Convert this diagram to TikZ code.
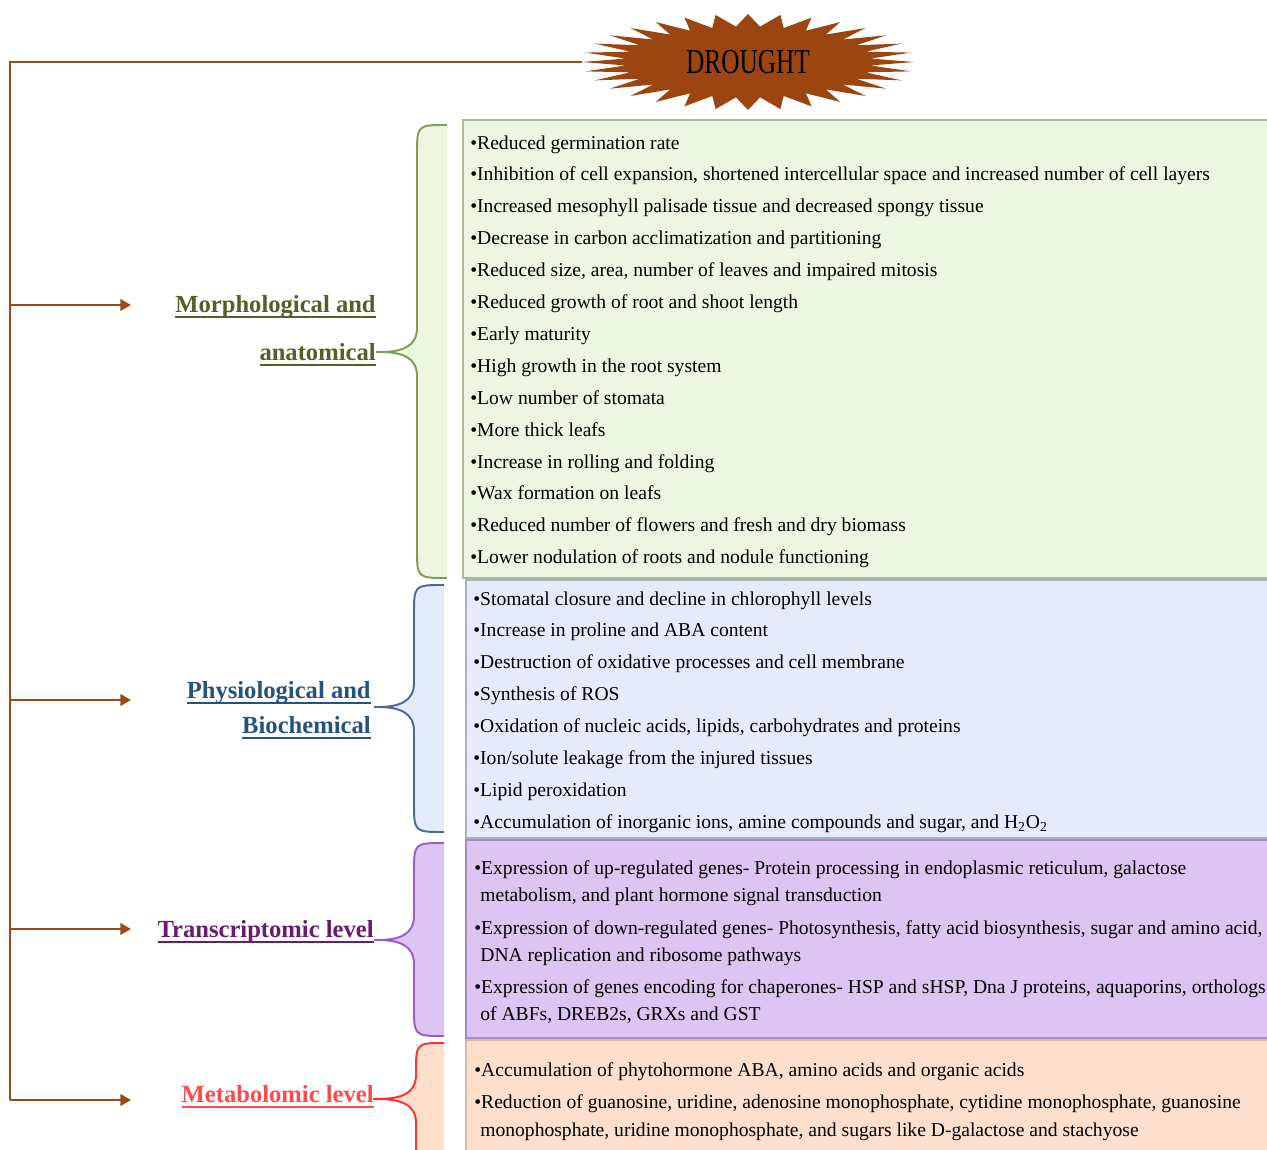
\documentclass[tikz,border=0pt]{standalone}
\usepackage{fontspec}
\setmainfont{Liberation Serif}
\newfontfamily\burstfont{Liberation Serif}[FakeStretch=0.72]
\usepackage{tikz}
\usetikzlibrary{arrows.meta, positioning}
\definecolor{rootbrown}{HTML}{9A4A12}
\definecolor{burst}{HTML}{9C4511}
\definecolor{morphdark}{HTML}{4F6228}
\definecolor{morphpen}{HTML}{7F9C5A}
\definecolor{morphfill}{HTML}{EBF7E1}
\definecolor{morphedge}{HTML}{A9BD97}
\definecolor{physdark}{HTML}{25527F}
\definecolor{physpen}{HTML}{4A6A96}
\definecolor{physfill}{HTML}{E4ECFB}
\definecolor{physedge}{HTML}{A5B2C8}
\definecolor{transdark}{HTML}{6A1B6E}
\definecolor{transpen}{HTML}{9A5CCB}
\definecolor{transfill}{HTML}{DEC4F2}
\definecolor{transedge}{HTML}{A98BC0}
\definecolor{metabdark}{HTML}{FF4B4B}
\definecolor{metabpen}{HTML}{FF3030}
\definecolor{metabfill}{HTML}{FDDFCB}
\definecolor{metabedge}{HTML}{D9B8A6}

% underlined level title
\newcommand{\levelul}[1]{\setbox0\hbox{#1}\rlap{\rule[-3.2pt]{\wd0}{1.2pt}}\box0}

% brace: vertical x, right x, tip x, top y, tip y, bottom y, pen, fill
\newcommand{\levelbrace}[8]{%
  \fill[#8] (#2,#4) .. controls (#1,#4) .. (#1,#4+30) -- (#1,#5-24)
    .. controls (#1,#5-6) and (#1-14,#5) .. (#3,#5)
    .. controls (#1-14,#5) and (#1,#5+6) .. (#1,#5+24)
    -- (#1,#6-30) .. controls (#1,#6) .. (#2,#6) -- cycle;
  \draw[bracepen, #7] (#2,#4) .. controls (#1,#4) .. (#1,#4+30) -- (#1,#5-24)
    .. controls (#1,#5-6) and (#1-14,#5) .. (#3,#5) -- (#3-4,#5) -- (#3,#5)
    .. controls (#1-14,#5) and (#1,#5+6) .. (#1,#5+24)
    -- (#1,#6-30) .. controls (#1,#6) .. (#2,#6);
}

\begin{document}
\begin{tikzpicture}[
    x=0.02cm, y=-0.02cm,
    trunk/.style={draw=rootbrown, line width=1.2pt},
    branch/.style={draw=rootbrown, line width=1.2pt, -{Triangle[length=6pt, width=6.5pt]}},
    bracepen/.style={line width=1.1pt},
    heading/.style={anchor=base east, inner sep=0, font=\fontsize{14}{16}\selectfont\bfseries},
    item/.style={anchor=base west, inner sep=0, font=\fontsize{11.15}{13}\selectfont},
    panel/.style={line width=1pt},
]
\useasboundingbox (0,0) rectangle (1267,1149);

% Drought burst
\fill[burst] (914,62) \foreach \k [evaluate=\k as \a using \k*5.625,
    evaluate=\k as \r using {ifthenelse(mod(\k,2)==0,1,0.74)}] in {1,...,63}
    { -- ({748+166*\r*cos(\a)},{62+48*\r*sin(\a)}) } -- cycle;
\node[minimum width=6.64cm, minimum height=1.9cm, inner sep=0,
    font=\burstfont\fontsize{20}{22}\selectfont] (drought) at (748,62) {DROUGHT};

% Panels
\draw[panel, fill=morphfill, draw=morphedge] (463,120) rectangle (1275,578);
\draw[panel, fill=physfill, draw=physedge] (466,580) rectangle (1275,838);
\draw[panel, fill=transfill, draw=transedge] (466,840) rectangle (1275,1038);
\draw[panel, fill=metabfill, draw=metabedge] (466,1040) rectangle (1275,1160);

% Braces
\levelbrace{417}{447}{380}{125}{352}{578}{morphpen}{morphfill}
\levelbrace{414}{444}{378}{585}{707}{832}{physpen}{physfill}
\levelbrace{414}{444}{378}{843}{940}{1036}{transpen}{transfill}
\levelbrace{416}{444}{377}{1043}{1099}{1190}{metabpen}{metabfill}

% Levels
\node[heading, text=morphdark] (morph1) at (376,312) {\levelul{Morphological and}};
\node[heading, text=morphdark] (morph2) at (376,360) {\levelul{anatomical}};
\node[heading, text=physdark] (phys1) at (371,698) {\levelul{Physiological and}};
\node[heading, text=physdark] (phys2) at (371,733) {\levelul{Biochemical}};
\node[heading, text=transdark] (trans) at (374,937) {\levelul{Transcriptomic level}};
\node[heading, text=metabdark] (metab) at (374,1102) {\levelul{Metabolomic level}};

% Connectors
\coordinate (corner) at (10,62);
\coordinate (s1) at (10,305);
\coordinate (s2) at (10,700);
\coordinate (s3) at (10,929);
\coordinate (s4) at (10,1100);
\coordinate (e1) at (131,305);
\coordinate (e2) at (131,700);
\coordinate (e3) at (131,929);
\coordinate (e4) at (131,1100);
\draw[trunk] (drought.west) -- (corner) -- (s4);
\foreach \i in {1,...,4}
    \draw[branch] (s\i) -- (e\i);

% Morphological and anatomical
\foreach \txt [count=\k from 0] in {
    {Reduced germination rate},
    {Inhibition of cell expansion, shortened intercellular space and increased number of cell layers},
    {Increased mesophyll palisade tissue and decreased spongy tissue},
    {Decrease in carbon acclimatization and partitioning},
    {Reduced size, area, number of leaves and impaired mitosis},
    {Reduced growth of root and shoot length},
    {Early maturity},
    {High growth in the root system},
    {Low number of stomata},
    {More thick leafs},
    {Increase in rolling and folding},
    {Wax formation on leafs},
    {Reduced number of flowers and fresh and dry biomass},
    {Lower nodulation of roots and nodule functioning}}
    \node[item] (m\k) at (470,149+31.9*\k) {\textbullet\txt};

% Physiological and biochemical
\foreach \txt [count=\k from 0] in {
    {Stomatal closure and decline in chlorophyll levels},
    {Increase in proline and ABA content},
    {Destruction of oxidative processes and cell membrane},
    {Synthesis of ROS},
    {Oxidation of nucleic acids, lipids, carbohydrates and proteins},
    {Ion/solute leakage from the injured tissues},
    {Lipid peroxidation},
    {Accumulation of inorganic ions, amine compounds and sugar, and H\textsubscript{2}O\textsubscript{2}}}
    \node[item] (p\k) at (473,605+31.9*\k) {\textbullet\txt};

% Transcriptomic level
\node[item] (t1) at (474,874) {\textbullet Expression of up-regulated genes- Protein processing in endoplasmic reticulum, galactose};
\node[item] (t1b) at (480,901) {metabolism, and plant hormone signal transduction};
\node[item] (t2) at (474,934) {\textbullet Expression of down-regulated genes- Photosynthesis, fatty acid biosynthesis, sugar and amino acid,};
\node[item] (t2b) at (480,961) {DNA replication and ribosome pathways};
\node[item] (t3) at (474,993) {\textbullet Expression of genes encoding for chaperones- HSP and sHSP, Dna J proteins, aquaporins, orthologs};
\node[item] (t3b) at (480,1020) {of ABFs, DREB2s, GRXs and GST};

% Metabolomic level
\node[item] (x1) at (474,1076) {\textbullet Accumulation of phytohormone ABA, amino acids and organic acids};
\node[item] (x2) at (474,1108) {\textbullet Reduction of guanosine, uridine, adenosine monophosphate, cytidine monophosphate, guanosine};
\node[item] (x2b) at (480,1136) {monophosphate, uridine monophosphate, and sugars like D-galactose and stachyose};

\end{tikzpicture}
\end{document}
